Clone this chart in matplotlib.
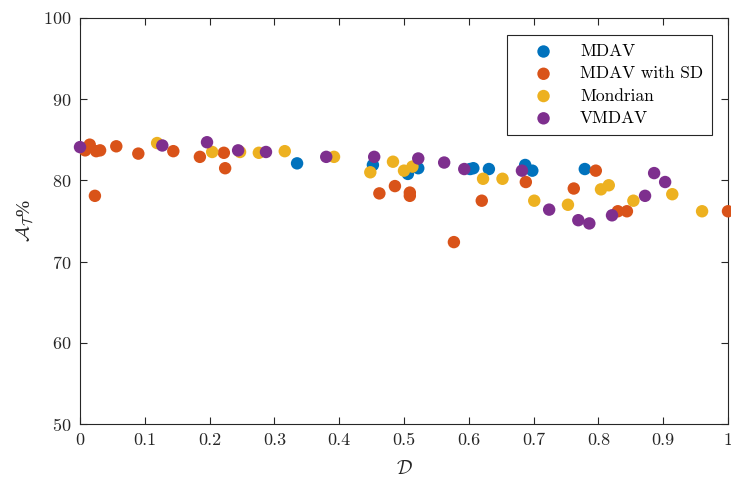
import matplotlib
matplotlib.use("Agg")
import matplotlib.pyplot as plt

# data
mdav_x = [0.335, 0.452, 0.506, 0.522, 0.602, 0.607, 0.631, 0.687, 0.698, 0.779]
mdav_y = [82.1, 81.9, 80.8, 81.5, 81.4, 81.5, 81.4, 81.9, 81.2, 81.4]

sd_x = [0.008, 0.015, 0.025, 0.031, 0.023, 0.056, 0.090, 0.144, 0.185, 0.222, 0.224,
        0.462, 0.486, 0.509, 0.509, 0.577, 0.620, 0.688, 0.762, 0.796, 0.830, 0.844, 1.0]
sd_y = [83.7, 84.4, 83.6, 83.7, 78.1, 84.2, 83.3, 83.6, 82.9, 83.4, 81.5,
        78.4, 79.3, 78.5, 78.1, 72.4, 77.5, 79.8, 79.0, 81.2, 76.2, 76.2, 76.2]

mon_x = [0.119, 0.204, 0.247, 0.276, 0.316, 0.392, 0.448, 0.483, 0.500, 0.513,
         0.622, 0.652, 0.701, 0.753, 0.804, 0.816, 0.854, 0.914, 0.960]
mon_y = [84.6, 83.5, 83.5, 83.4, 83.6, 82.9, 81.0, 82.3, 81.2, 81.7,
         80.2, 80.2, 77.5, 77.0, 78.9, 79.4, 77.5, 78.3, 76.2]

vm_x = [0.0, 0.127, 0.196, 0.244, 0.287, 0.380, 0.454, 0.522, 0.562, 0.593,
        0.682, 0.724, 0.769, 0.786, 0.821, 0.872, 0.886, 0.903]
vm_y = [84.1, 84.3, 84.7, 83.7, 83.5, 82.9, 82.9, 82.7, 82.2, 81.4,
        81.2, 76.4, 75.1, 74.7, 75.7, 78.1, 80.9, 79.8]

labels = ["MDAV", "MDAV with SD", "Mondrian", "VMDAV"]
colors = ["#0072BD", "#D95319", "#EDB120", "#7E2F8E"]

plt.rcParams["font.family"] = "serif"
plt.rcParams["font.serif"] = ["cmr10"]
plt.rcParams["mathtext.fontset"] = "cm"
plt.rcParams["axes.formatter.use_mathtext"] = True

fig = plt.figure(figsize=(7.31, 4.8), dpi=100)
ax = fig.add_axes([80 / 731, 1 - 424 / 480, 648 / 731, 406 / 480])

series = [(mdav_x, mdav_y), (sd_x, sd_y), (mon_x, mon_y), (vm_x, vm_y)]
for (xs, ys), lab, c in zip(series, labels, colors):
    ax.scatter(xs, ys, s=80, color=c, edgecolors="none", label=lab, clip_on=False, zorder=3)

ax.set_xlim(0, 1)
ax.set_ylim(50, 100)
ax.set_xticks([i / 10 for i in range(11)])
ax.set_xticklabels(["0", "0.1", "0.2", "0.3", "0.4", "0.5", "0.6", "0.7", "0.8", "0.9", "1"])
ax.set_yticks([50, 60, 70, 80, 90, 100])

edge = "#262626"
for sp in ax.spines.values():
    sp.set_color(edge)
    sp.set_linewidth(0.8)
ax.tick_params(direction="in", top=True, right=True, length=5, width=0.8,
               color=edge, labelsize=13, labelcolor=edge, pad=6)

ax.set_xlabel(r"$\mathcal{D}$", fontsize=14, color=edge, labelpad=9)
# the cmr10 '%' sits too high, so take it from a normal serif face
ax.set_ylabel(r"$\mathcal{A}_{\mathcal{T}}\mathdefault{\%}$", fontsize=14, color=edge,
              labelpad=5, family="Liberation Serif")

leg = ax.legend(loc="upper right", bbox_to_anchor=(0.975, 0.958), borderaxespad=0,
                fontsize=12.5, frameon=True, fancybox=False, framealpha=1,
                handlelength=3.2, handletextpad=0.5, borderpad=0.5,
                labelspacing=0.4, scatterpoints=1)
leg.get_frame().set_edgecolor(edge)
leg.get_frame().set_linewidth(0.8)

fig.savefig("out.png", dpi=100)
